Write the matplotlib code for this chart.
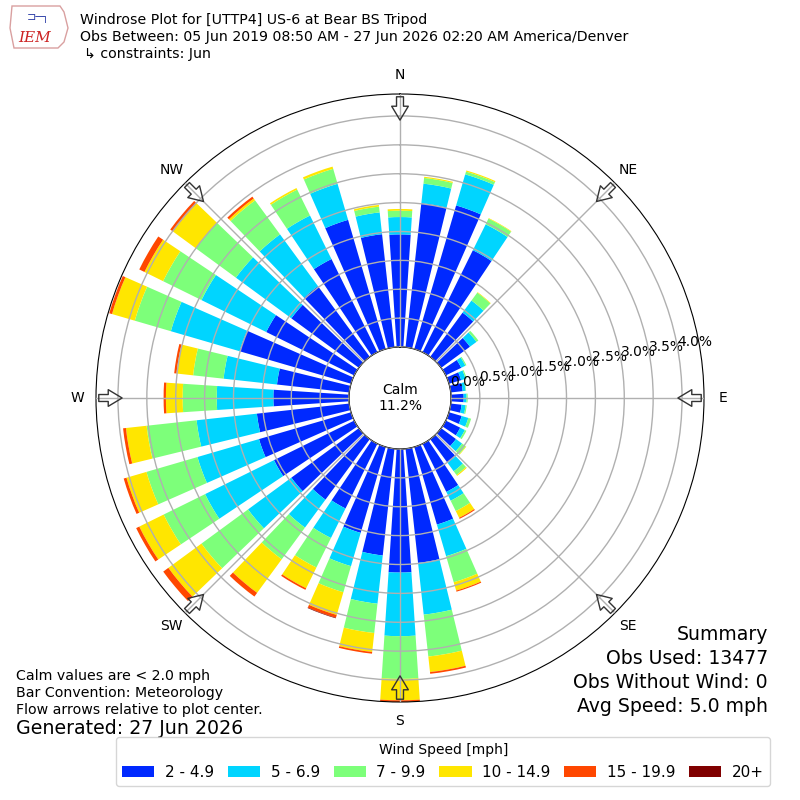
import numpy as np
import matplotlib
matplotlib.use("Agg")
import matplotlib.pyplot as plt
from matplotlib.patches import FancyArrowPatch, Patch, Polygon

# wind directions (deg, meteorological) and speed bins
directions = np.arange(0, 360, 10)
speed_labels = ["2 - 4.9", "5 - 6.9", "7 - 9.9", "10 - 14.9", "15 - 19.9", "20+"]

# frequency [%] per direction for each speed bin
freq_2_5 = [1.95, 2.51, 2.59, 1.97, 0.95, 0.62, 0.30, 0.22, 0.21, 0.22, 0.19, 0.23,
            0.28, 0.32, 0.51, 0.93, 1.40, 1.99, 2.14, 1.86, 1.55, 1.25, 1.30, 1.45,
            1.55, 1.66, 1.61, 1.31, 1.26, 2.01, 1.70, 1.45, 1.52, 1.80, 2.33, 1.97]
freq_5_7 = [0.30, 0.34, 0.56, 0.50, 0.26, 0.14, 0.08, 0.08, 0.05, 0.05, 0.07, 0.12,
            0.09, 0.13, 0.18, 0.17, 0.57, 0.90, 1.10, 0.84, 0.60, 0.57, 0.60, 0.93,
            1.33, 1.11, 1.05, 0.98, 0.93, 1.24, 1.25, 1.19, 1.11, 0.84, 0.65, 0.38]
freq_7_10 = [0.11, 0.10, 0.05, 0.11, 0.17, 0.04, 0.02, 0.02, 0.01, 0.02, 0.02, 0.05,
             0.03, 0.08, 0.08, 0.20, 0.47, 0.73, 0.74, 0.51, 0.47, 0.57, 0.68, 1.00,
             0.80, 0.92, 0.87, 0.59, 0.53, 0.65, 0.74, 0.86, 0.73, 0.50, 0.27, 0.10]
freq_10_15 = [0.03, 0.02, 0.02, 0.01, 0.01, 0.00, 0.00, 0.00, 0.00, 0.00, 0.00, 0.00,
              0.00, 0.01, 0.02, 0.13, 0.15, 0.27, 0.37, 0.33, 0.41, 0.40, 0.72, 0.71,
              0.47, 0.36, 0.36, 0.29, 0.29, 0.41, 0.36, 0.49, 0.04, 0.03, 0.04, 0.03]
freq_15_20 = [0.00, 0.00, 0.00, 0.00, 0.00, 0.00, 0.00, 0.00, 0.00, 0.00, 0.00, 0.00,
              0.00, 0.00, 0.00, 0.02, 0.02, 0.03, 0.03, 0.03, 0.05, 0.03, 0.08, 0.11,
              0.06, 0.05, 0.05, 0.04, 0.04, 0.05, 0.10, 0.06, 0.04, 0.00, 0.00, 0.00]
freq_20 = [0.00] * 20 + [0.01] + [0.00] * 15

calm_pct = 11.2
compass = ["N", "NE", "E", "SE", "S", "SW", "W", "NW"]
rticks = [0.0, 0.5, 1.0, 1.5, 2.0, 2.5, 3.0, 3.5, 4.0]

series = [freq_2_5, freq_5_7, freq_7_10, freq_10_15, freq_15_20, freq_20]
colors = plt.cm.jet(np.linspace(0, 1, 7))[1:]

fig = plt.figure(figsize=(8, 8), dpi=100)
ax = fig.add_axes([0.12, 0.1225, 0.76, 0.76], projection="polar")
ax.set_theta_zero_location("N")
ax.set_theta_direction(-1)

theta = np.radians(directions)
width = np.radians(10) * 0.75
bottom = np.zeros(len(directions))
for vals, color in zip(series, colors):
    vals = np.array(vals)
    ax.bar(theta, vals, width=width, bottom=bottom, color=color, linewidth=0)
    bottom += vals

rmax = bottom.max()
ax.set_ylim(0, rmax)
ax.set_rorigin(-0.882)
ax.set_axisbelow(False)

ax.set_yticks(rticks)
ax.set_yticklabels([f"{v:.1f}%" for v in rticks], fontsize=10)
ax.set_rlabel_position(80)
ax.set_xticks(np.radians(np.arange(0, 360, 45)))
ax.set_xticklabels(compass, fontsize=10)
ax.tick_params(axis="x", pad=3)
ax.grid(True, color="#b0b0b0", linewidth=1)

# calm circle
ring = np.linspace(0, 2 * np.pi, 361)
ax.plot(ring, np.zeros_like(ring), color="k", linewidth=1)
ax.text(0.5, 0.5, f"Calm\n{calm_pct:.1f}%", transform=ax.transAxes,
        ha="center", va="center", fontsize=10)

# flow arrows at the compass points
for ang in np.arange(0, 360, 45):
    t = np.radians(ang)
    arr = FancyArrowPatch((t, rmax), (t, rmax - 0.5),
                          arrowstyle="simple,head_length=10,head_width=12,tail_width=5",
                          mutation_scale=1, transform=ax.transData,
                          facecolor="none", edgecolor="#333333", linewidth=1,
                          clip_on=False, zorder=5)
    ax.add_patch(arr)

# header
fig.text(80 / 800, 1 - 20 / 800, "Windrose Plot for [UTTP4] US-6 at Bear BS Tripod",
         fontsize=10.2, va="center")
fig.text(80 / 800, 1 - 37 / 800,
         "Obs Between: 05 Jun 2019 08:50 AM - 27 Jun 2026 02:20 AM America/Denver",
         fontsize=10.2, va="center")
fig.text(84 / 800, 1 - 54 / 800, "\u21b3 constraints: Jun", fontsize=10.2, va="center")

# logo (rough stand-in for the IEM image)
outline = [[12, 6], [60, 6], [64, 12], [68, 28], [64, 42], [58, 48], [14, 48], [10, 28]]
logo = Polygon([[x / 800, 1 - y / 800] for x, y in outline], closed=True, fill=False,
               edgecolor="#d9a0a0", linewidth=1, transform=fig.transFigure)
fig.add_artist(logo)
fig.text(35 / 800, 1 - 38 / 800, "IEM", color="#cc2222", fontsize=11, style="italic",
         family="DejaVu Serif", ha="center", va="center")
fig.text(38 / 800, 1 - 18 / 800, "\u2290\u2500\u2510", color="#3344aa", fontsize=8,
         ha="center", va="center")

# footnotes
fig.text(16 / 800, 1 - 676 / 800, "Calm values are < 2.0 mph", fontsize=10.2, va="center")
fig.text(16 / 800, 1 - 693 / 800, "Bar Convention: Meteorology", fontsize=10.2,
         va="center")
fig.text(16 / 800, 1 - 710 / 800, "Flow arrows relative to plot center.", fontsize=10.2,
         va="center")
fig.text(16 / 800, 1 - 729 / 800, "Generated: 27 Jun 2026", fontsize=13.7, va="center")

summary = ["Summary", "Obs Used: 13477", "Obs Without Wind: 0", "Avg Speed: 5.0 mph"]
for i, line in enumerate(summary):
    fig.text(768 / 800, 1 - (635 + 24 * i) / 800, line, fontsize=13.6, ha="right",
             va="center")

handles = [Patch(facecolor=c) for c in colors]
fig.legend(handles, speed_labels, loc="lower center", ncol=6, title="Wind Speed [mph]",
           bbox_to_anchor=(0.554, 0.008), fontsize=11, title_fontsize=10,
           handlelength=2.1, handletextpad=0.7, columnspacing=0.9)

fig.savefig("out.png", dpi=100)
